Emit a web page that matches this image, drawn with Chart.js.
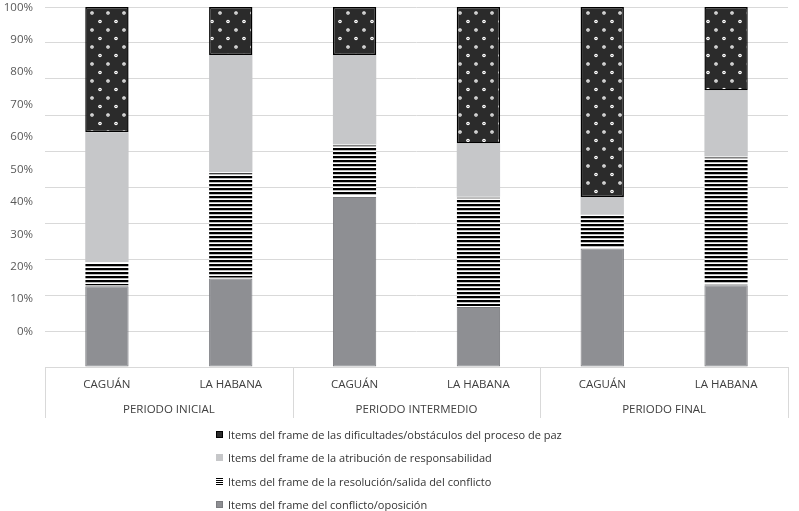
<!DOCTYPE html>
<html>
<head>
<meta charset="utf-8">
<script src="https://cdn.jsdelivr.net/npm/chart.js@4.4.1/dist/chart.umd.min.js"></script>
<style>
html,body{margin:0;padding:0;background:#fff;}
#wrap{position:relative;width:799px;height:511px;overflow:hidden;}
#box{position:absolute;left:0;top:0;width:799px;height:425px;}
#legend{position:absolute;left:216px;top:423px;font-family:"Open Sans",sans-serif;font-size:11px;color:#333;}
.item{height:23.3px;display:flex;align-items:center;white-space:nowrap;}
.sw{width:7px;height:7px;margin-right:5px;box-sizing:border-box;flex:none;}
</style>
</head>
<body>
<div id="wrap">
  <div id="box"><canvas id="c"></canvas></div>
  <div id="legend"></div>
</div>
<script>
// ---- data ----
const categories = ['CAGUÁN', 'LA HABANA', 'CAGUÁN', 'LA HABANA', 'CAGUÁN', 'LA HABANA'];
const periods = ['PERIODO INICIAL', 'PERIODO INTERMEDIO', 'PERIODO FINAL'];
const seriesNames = [
  'Items del frame del conflicto/oposición',
  'Items del frame de la resolución/salida del conflicto',
  'Items del frame de la atribución de responsabilidad',
  'Items del frame de las dificultades/obstáculos del proceso de paz'
];
const conflicto    = [22.4, 24.6, 47.2, 16.7, 32.9, 22.7];
const resolucion   = [6.7, 29.5, 14.6, 30.6, 9.4, 35.8];
const atribucion   = [36.1, 32.6, 24.9, 14.8, 4.9, 18.3];
const dificultades = [34.8, 13.3, 13.3, 37.9, 52.8, 23.2];
const yTickLabels  = [0, 10, 20, 30, 40, 50, 60, 70, 80, 90, 100];

// ---- patterns ----
function dotsPattern() {
  const c = document.createElement('canvas');
  c.width = 16; c.height = 17;
  const g = c.getContext('2d');
  g.fillStyle = '#2b2b2b';
  g.fillRect(0, 0, 16, 17);
  [[4, 4.5], [12, 13]].forEach(([x, y]) => {
    g.fillStyle = '#ffffff';
    g.beginPath(); g.arc(x, y, 1.8, 0, Math.PI * 2); g.fill();
    g.fillStyle = '#2b2b2b';
    g.beginPath(); g.arc(x, y, 0.6, 0, Math.PI * 2); g.fill();
  });
  return g.createPattern(c, 'repeat');
}
function stripesPattern() {
  const c = document.createElement('canvas');
  c.width = 4; c.height = 4;
  const g = c.getContext('2d');
  g.fillStyle = '#ffffff';
  g.fillRect(0, 0, 4, 4);
  g.fillStyle = '#000000';
  g.fillRect(0, 0, 4, 2);
  g.fillStyle = '#777777';
  g.fillRect(0, 2, 4, 0.5);
  return g.createPattern(c, 'repeat');
}

const FONT = { family: '"Open Sans", sans-serif', size: 11.5 };

const groupLines = {
  id: 'groupLines',
  afterDraw(chart) {
    const x = chart.scales.x, x2 = chart.scales.x2;
    const ctx = chart.ctx;
    const half = (x.getPixelForValue(1) - x.getPixelForValue(0)) / 2;
    ctx.save();
    ctx.strokeStyle = '#d9d9d9';
    ctx.lineWidth = 1;
    for (let i = 0; i <= categories.length; i += 2) {
      const px = Math.round(x.getPixelForValue(i) - half) + 0.5;
      ctx.beginPath();
      ctx.moveTo(px, x.top);
      ctx.lineTo(px, x2.bottom);
      ctx.stroke();
    }
    ctx.restore();
  }
};

const chart = new Chart(document.getElementById('c'), {
  type: 'bar',
  data: {
    labels: categories,
    datasets: [
      { label: seriesNames[0], data: conflicto, backgroundColor: '#8e8f93', borderColor: '#7b7c80', borderWidth: 1, borderSkipped: false },
      { label: seriesNames[1], data: resolucion, backgroundColor: stripesPattern(), borderColor: '#ffffff', borderWidth: { top: 1, bottom: 1, left: 0, right: 0 }, borderSkipped: false },
      { label: seriesNames[2], data: atribucion, backgroundColor: '#c6c7c9', borderColor: '#bfc0c2', borderWidth: 0 },
      { label: seriesNames[3], data: dificultades, backgroundColor: dotsPattern(), borderColor: '#000000', borderWidth: 1.5, borderSkipped: false }
    ]
  },
  options: {
    responsive: true,
    maintainAspectRatio: false,
    animation: false,
    layout: { padding: { top: 7, right: 11, bottom: 7, left: 0 } },
    datasets: { bar: { barPercentage: 0.35, categoryPercentage: 1.0 } },
    plugins: { legend: { display: false }, tooltip: { enabled: false } },
    scales: {
      x: {
        stacked: true,
        position: 'bottom',
        offset: true,
        grid: { display: false, drawTicks: false },
        border: { display: true, color: '#d9d9d9', width: 1 },
        afterFit(s) { s.height = 24; s.paddingLeft = 0; s.paddingRight = 0; },
        ticks: { font: FONT, color: '#404040', padding: 11, maxRotation: 0, autoSkip: false }
      },
      x2: {
        type: 'category',
        labels: periods,
        position: 'bottom',
        offset: true,
        grid: { display: false, drawTicks: false },
        border: { display: false },
        afterFit(s) { s.height = 27; s.paddingLeft = 0; s.paddingRight = 0; },
        ticks: { font: FONT, color: '#404040', padding: 12, maxRotation: 0, autoSkip: false }
      },
      y: {
        stacked: true,
        min: 0, max: 100,
        position: 'left',
        ticks: { display: false, stepSize: 10 },
        grid: { color: '#d9d9d9', lineWidth: 1, drawTicks: false },
        border: { display: false },
        afterFit(s) { s.width = 0; s.paddingTop = 0; s.paddingBottom = 0; }
      },
      y2: {
        type: 'linear',
        position: 'left',
        min: -10.9, max: 100.1,
        grid: { display: false, drawTicks: false },
        border: { display: false },
        afterBuildTicks(s) { s.ticks = yTickLabels.map(v => ({ value: v })); },
        afterFit(s) { s.width = 45; s.paddingTop = 0; s.paddingBottom = 0; },
        ticks: { font: FONT, color: '#595959', padding: 12, callback: v => v + '%' }
      }
    }
  },
  plugins: [groupLines]
});

// ---- HTML legend (top series first) ----
const swatchCss = [
  'background:#8e8f93;border:1px solid #7b7c80;',
  'background:repeating-linear-gradient(to bottom,#000 0,#000 1px,#fff 1px,#fff 2px);',
  'background:#c6c7c9;',
  'background:#2b2b2b;border:1px solid #000;'
];
const legend = document.getElementById('legend');
for (let i = chart.data.datasets.length - 1; i >= 0; i--) {
  const d = document.createElement('div');
  d.className = 'item';
  const s = document.createElement('span');
  s.className = 'sw';
  s.style.cssText = swatchCss[i];
  const t = document.createElement('span');
  t.textContent = chart.data.datasets[i].label;
  d.appendChild(s); d.appendChild(t);
  legend.appendChild(d);
}
</script>
</body>
</html>
